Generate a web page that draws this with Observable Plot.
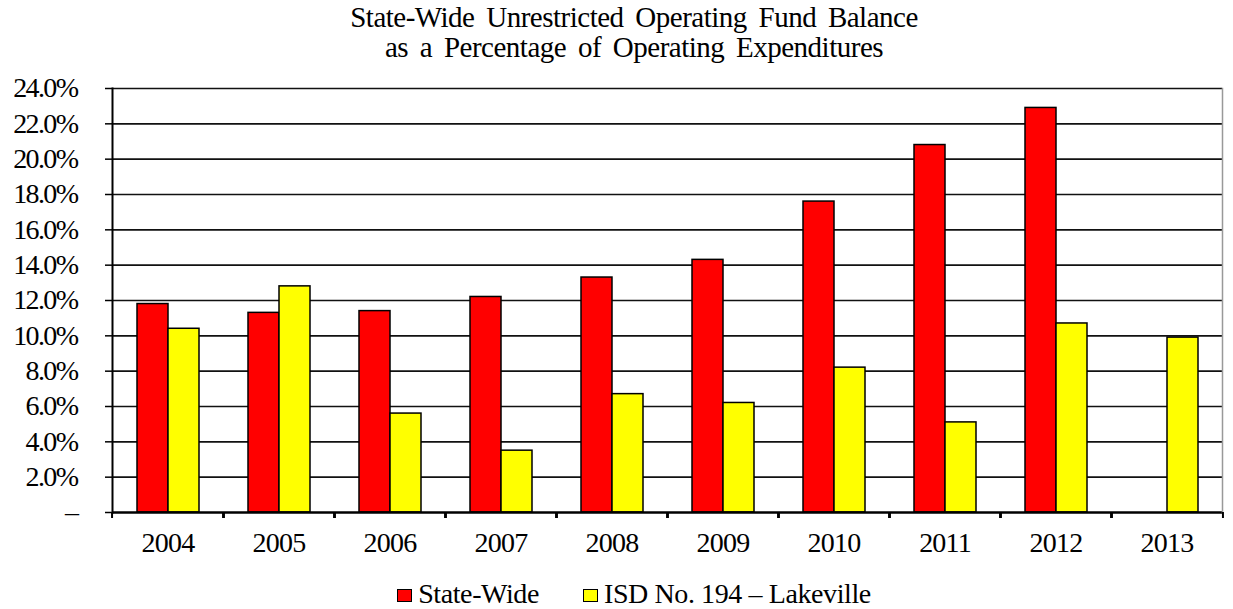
<!DOCTYPE html>
<html>
<head>
<meta charset="utf-8">
<script src="https://cdn.jsdelivr.net/npm/d3@7"></script>
<script src="https://cdn.jsdelivr.net/npm/@observablehq/plot@0.6"></script>
<style>
  html, body { margin: 0; padding: 0; background: #fff; }
  body { width: 1233px; height: 609px; overflow: hidden; font-family: "Liberation Serif", "Times New Roman", serif; color: #000; }
  #title { box-sizing: border-box; height: 66px; padding-top: 2px; padding-left: 35px; text-align: center; font-size: 29px; line-height: 30px; letter-spacing: -0.5px; word-spacing: 5px; }
  #chart svg { display: block; }
  #chart svg, #chart svg text { font-family: "Liberation Serif", "Times New Roman", serif !important; }
  #chart g[aria-label="y-axis tick label"] text { letter-spacing: -1.6px; }
  #chart g[aria-label="fx-axis tick label"] text { letter-spacing: -0.8px; }
  #legend { box-sizing: border-box; padding-top: 17px; padding-left: 35px; text-align: center; font-size: 28px; line-height: 30px; letter-spacing: -0.4px; }
  .item { display: inline-block; margin: 0 22px; }
  .sw { display: inline-block; width: 13px; height: 11px; border: 1.5px solid #000; margin-right: 6px; vertical-align: 1px; }
</style>
</head>
<body>
<div id="title">State-Wide Unrestricted Operating Fund Balance<br>as a Percentage of Operating Expenditures</div>
<div id="chart"></div>
<div id="legend"></div>
<script>
const years = ["2004", "2005", "2006", "2007", "2008", "2009", "2010", "2011", "2012", "2013"];
const stateWide = [11.8, 11.3, 11.4, 12.2, 13.3, 14.3, 17.6, 20.8, 22.9, null];
const lakeville = [10.4, 12.8, 5.6, 3.5, 6.7, 6.2, 8.2, 5.1, 10.7, 9.9];
const seriesNames = ["State-Wide", "ISD No. 194 – Lakeville"];
const seriesColors = ["#ff0000", "#ffff00"];
const yTicks = [0, 2, 4, 6, 8, 10, 12, 14, 16, 18, 20, 22, 24];

const data = years.flatMap((year, i) => [
  {year, series: seriesNames[0], value: stateWide[i]},
  {year, series: seriesNames[1], value: lakeville[i]}
]);

const W = 1233, ML = 107, MR = 7;
const half = (W - ML - MR) / years.length / 2;

const chart = Plot.plot({
  width: W,
  height: 496,
  marginLeft: ML,
  marginRight: MR,
  marginTop: 22,
  marginBottom: 50,
  style: {fontFamily: "'Liberation Serif', 'Times New Roman', serif", background: "#fff", color: "#000", overflow: "visible"},
  fx: {domain: years, padding: 0, label: null, axis: null},
  x: {domain: seriesNames, paddingInner: 0, paddingOuter: 0.75, axis: null},
  y: {domain: [0, 24], axis: null, label: null},
  color: {domain: seriesNames, range: seriesColors},
  marks: [
    Plot.gridY(yTicks.filter(d => d > 0), {stroke: "#111", strokeOpacity: 1, strokeWidth: 1.6}),
    Plot.barY(data, {fx: "year", x: "series", y: "value", fill: "series", stroke: "#000", strokeWidth: 1.5}),
    Plot.ruleY([0], {stroke: "#000", strokeWidth: 2.5}),
    Plot.frame({anchor: "left", facetAnchor: "left", stroke: "#000", strokeWidth: 2}),
    Plot.frame({anchor: "right", facetAnchor: "right", stroke: "#999", strokeWidth: 1.5}),
    Plot.axisY(yTicks, {
      label: null, tickSize: 7, tickPadding: 28, fontSize: 28, strokeWidth: 1.5,
      tickFormat: d => d === 0 ? "–" : d.toFixed(1) + "%"
    }),
    Plot.axisFx({anchor: "bottom", tickSize: 0, tickPadding: 20, fontSize: 28, label: null}),
    Plot.axisFx({anchor: "bottom", text: null, tickSize: 6, dx: -half, strokeWidth: 2, label: null}),
    Plot.axisFx({anchor: "bottom", text: null, tickSize: 6, dx: half, strokeWidth: 2, label: null})
  ]
});
document.getElementById("chart").appendChild(chart);

const legend = document.getElementById("legend");
seriesNames.forEach((name, i) => {
  const item = document.createElement("span");
  item.className = "item";
  const sw = document.createElement("span");
  sw.className = "sw";
  sw.style.background = seriesColors[i];
  item.appendChild(sw);
  item.appendChild(document.createTextNode(name));
  legend.appendChild(item);
});
</script>
</body>
</html>
